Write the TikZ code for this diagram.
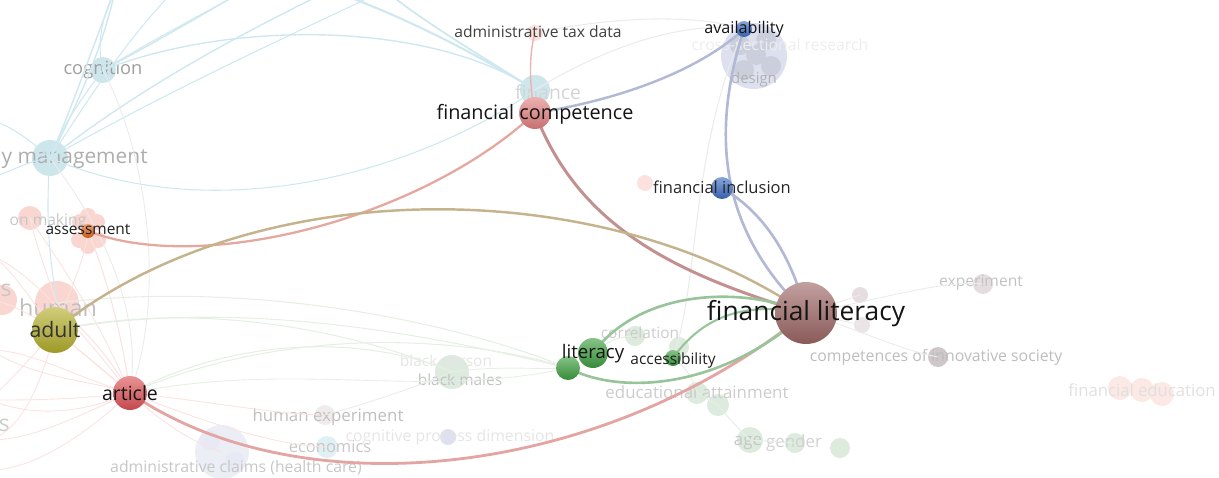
\documentclass[tikz,border=0pt]{standalone}
\usepackage{fontspec}
\setmainfont{Open Sans}
\usetikzlibrary{backgrounds}
\pgfdeclarelayer{faint}
\pgfsetlayers{faint,background,main}
\newcommand{\fsz}[1]{\fontsize{#1}{#1}\selectfont}
% node colours
\definecolor{litbrown}{HTML}{9C6664}
\definecolor{comppink}{HTML}{E27F80}
\definecolor{artred}{HTML}{DD5257}
\definecolor{adultolive}{HTML}{B4AE2C}
\definecolor{assorange}{HTML}{E2661E}
\definecolor{inclblue}{HTML}{3D6DC4}
\definecolor{litgreen}{HTML}{3E9E40}
\definecolor{fadecyan}{HTML}{CDE6EC}
\definecolor{fadepink}{HTML}{FAD6D0}
\definecolor{fadegreen}{HTML}{DDEADE}
\definecolor{fadelav}{HTML}{DDE1EF}
\definecolor{fadegray}{HTML}{E6DDE0}
% edge colours
\definecolor{edgebrown}{HTML}{C39090}
\definecolor{edgeblue}{HTML}{B2B9D4}
\definecolor{edgered}{HTML}{E3A4A2}
\definecolor{edgeassess}{HTML}{E6A89E}
\definecolor{edgeolive}{HTML}{C4B38C}
\definecolor{edgegreen}{HTML}{98C49A}
\definecolor{edgetax}{HTML}{E8B4B4}
\definecolor{edgecyan}{HTML}{CFE8EF}
\definecolor{edgepink}{HTML}{FAE3E1}
\definecolor{edgesage}{HTML}{E5EFE4}
\definecolor{edgegray}{HTML}{EBEBEE}
\tikzset{
  kwnode/.style 2 args={circle, inner sep=0pt, minimum size=#2*0.04cm,
    top color=#1!62!white, bottom color=#1!88!black},
  faintnode/.style 2 args={circle, inner sep=0pt, minimum size=#2*0.04cm, fill=#1},
  kwtext/.style 2 args={inner sep=0pt, text=#1, font=\fsz{#2}},
  tie/.style 2 args={draw=#1, line width=#2, line cap=round},
}

\begin{document}
\begin{tikzpicture}[x=0.02cm, y=-0.02cm]
\useasboundingbox (0,0) rectangle (1219,477);
\clip (0,0) rectangle (1219,477);

%faint items
\begin{pgfonlayer}{faint}
\node[faintnode={fadecyan}{13}] (cogn) at (103, 70) {};
\node[faintnode={fadecyan}{18}] (mgmt) at (50, 158) {};
\node[faintnode={fadecyan}{15}] (finance) at (535, 90) {};
\node[faintnode={fadepink}{12}] (decis) at (30, 218) {};
\node[faintnode={fadepink}{15}] (leftpink) at (2, 300) {};
\node[faintnode={fadepink}{22}] (human) at (57, 303) {};
\node[faintnode={fadepink}{8}] (pet1) at (80, 222) {};
\node[faintnode={fadepink}{8}] (pet2) at (97, 222) {};
\node[faintnode={fadepink}{8}] (pet3) at (79, 240) {};
\node[faintnode={fadepink}{8}] (pet4) at (98, 240) {};
\node[faintnode={fadepink}{8}] (pet5) at (88, 246) {};
\node[faintnode={fadepink}{8}] (pet6) at (88, 216) {};
\node[faintnode={fadepink!70!white}{8}] (admtax) at (535, 33) {};
\node[faintnode={fadepink!70!white}{8}] (pinkdot) at (645, 183) {};
\node[faintnode={fadelav}{33}] (design) at (754, 56) {};
\node[faintnode={fadelav!92!black}{10}] (des1) at (740, 45) {};
\node[faintnode={fadelav!92!black}{10}] (des2) at (766, 40) {};
\node[faintnode={fadelav!92!black}{10}] (des3) at (771, 66) {};
\node[faintnode={fadelav!92!black}{10}] (des4) at (744, 70) {};
\node[faintnode={fadelav!92!black}{10}] (des5) at (756, 55) {};
\node[faintnode={fadegreen}{17}] (blackm) at (452, 372) {};
\node[faintnode={fadegray!60!white}{10}] (humexp) at (325, 415) {};
\node[faintnode={fadecyan!60!white}{11}] (econ) at (327, 447) {};
\node[faintnode={fadelav}{8}] (cogproc) at (448, 437) {};
\node[faintnode={fadelav!55!white}{27}] (admclaims) at (222, 452) {};
\node[faintnode={fadelav!70!white}{10}] (adm1) at (210, 440) {};
\node[faintnode={fadelav!70!white}{10}] (adm2) at (235, 462) {};
\node[faintnode={fadegreen}{10}] (corr) at (635, 336) {};
\node[faintnode={fadegreen}{10}] (acchalo) at (679, 347) {};
\node[faintnode={fadegreen}{11}] (edu1) at (697, 393) {};
\node[faintnode={fadegreen}{11}] (edu2) at (718, 405) {};
\node[faintnode={fadegreen}{13}] (age) at (750, 440) {};
\node[faintnode={fadegreen}{10}] (gender) at (795, 443) {};
\node[faintnode={fadegreen}{10}] (agerim) at (840, 448) {};
\node[faintnode={fadegray}{8}] (grayA) at (860, 295) {};
\node[faintnode={fadegray!80!white}{8}] (grayB) at (862, 325) {};
\node[faintnode={fadegray}{10}] (expnode) at (983, 284) {};
\node[faintnode={fadegray!90!black}{10}] (compnode) at (938, 357) {};
\node[faintnode={fadepink!55!white}{12}] (fined1) at (1120, 388) {};
\node[faintnode={fadepink!55!white}{12}] (fined2) at (1142, 390) {};
\node[faintnode={fadepink!55!white}{12}] (fined3) at (1162, 394) {};
\node[kwtext={black!38}{10.4}] (cognL) at (103, 70) {cognition};
\node[kwtext={black!32}{11.9}, anchor=east] (mgmtL) at (148, 159) {y management};
\node[kwtext={black!22}{8.9}] (decisL) at (48, 221) {on making};
\node[kwtext={black!22}{13}, anchor=east] (leftL) at (12, 290) {rs};
\node[kwtext={black!25}{13.3}] (humanL) at (58, 308) {human};
\node[kwtext={black!17}{11}] (financeL) at (548, 92) {finance};
\node[kwtext={black!30}{8.5}] (designL) at (754, 80) {design};
\node[kwtext={black!7}{9}] (crossL) at (780, 45) {cross-sectional research};
\node[kwtext={black!10}{8.8}] (blackpL) at (446, 362) {black person};
\node[kwtext={black!24}{8.8}] (blackmL) at (460, 380) {black males};
\node[kwtext={black!25}{9.6}] (humexpL) at (328, 417) {human experiment};
\node[kwtext={black!22}{9.4}] (econL) at (330, 447) {economics};
\node[kwtext={black!10}{9}] (cogprocL) at (450, 437) {cognitive process dimension};
\node[kwtext={black!22}{9}] (admclaimsL) at (236, 468) {administrative claims (health care)};
\node[kwtext={black!20}{13}, anchor=east] (sL) at (10, 425) {s};
\node[kwtext={black!20}{8.8}] (corrL) at (640, 333) {correlation};
\node[kwtext={black!20}{9.6}] (eduL) at (697, 392) {educational attainment};
\node[kwtext={black!22}{9.6}] (ageL) at (748, 443) {age};
\node[kwtext={black!18}{9.6}] (genderL) at (794, 443) {gender};
\node[kwtext={black!24}{8.9}] (expL) at (981, 283) {experiment};
\node[kwtext={black!26}{9}] (compL) at (936, 357) {competences of innovative society};
\node[kwtext={black!12}{9.5}] (finedL) at (1142, 390) {financial education};
\end{pgfonlayer}

%main items
\node[kwnode={litbrown}{31}] (finlit) at (806, 313) {};
\node[kwnode={comppink}{16}] (fincomp) at (535, 113) {};
\node[kwnode={inclblue}{8}] (avail) at (744, 29) {};
\node[kwnode={inclblue}{11}] (fincl) at (722, 188) {};
\node[kwnode={litgreen}{12}] (litB) at (568, 368) {};
\node[kwnode={litgreen}{15}] (litA) at (593, 353) {};
\node[kwnode={litgreen}{8}] (access) at (673, 358) {};
\node[kwnode={artred}{17}] (article) at (130, 393) {};
\node[kwnode={adultolive}{23}] (adult) at (55, 330) {};
\node[kwnode={assorange}{7}] (assess) at (88, 231) {};
\node[kwtext={black!92}{15}] (finlitL) at (806, 314) {financial literacy};
\node[kwtext={black!92}{11.3}] (fincompL) at (535, 114) {financial competence};
\node[kwtext={black!75}{8.9}] (admtaxL) at (538, 32) {administrative tax data};
\node[kwtext={black!92}{9.2}] (availL) at (744, 29) {availability};
\node[kwtext={black!85}{9.4}] (finclL) at (722, 187) {financial inclusion};
\node[kwtext={black!92}{10.6}] (litL) at (593, 354) {literacy};
\node[kwtext={black!88}{8.8}] (accessL) at (673, 360) {accessibility};
\node[kwtext={black!92}{11.1}] (articleL) at (130, 393) {article};
\node[kwtext={black!80}{12.1}] (adultL) at (55, 330) {adult};
\node[kwtext={black!88}{8.8}] (assessL) at (88, 229) {assessment};

\coordinate (offA) at (115, -10);
\coordinate (offB) at (175, -10);
\coordinate (offC) at (245, -10);
\coordinate (offD) at (330, -10);
\coordinate (offE) at (385, -10);
\coordinate (offF) at (-10, 120);
\coordinate (offG) at (-10, 178);
\coordinate (offH) at (-10, 255);
\coordinate (offI) at (-10, 300);
\coordinate (offJ) at (-10, 350);
\coordinate (offK) at (-10, 400);
\coordinate (offL) at (-10, 440);
\coordinate (offM) at (-10, 470);

%faint links
\begin{scope}[on background layer]
\draw[tie={edgecyan}{0.8pt}] (mgmt.center) .. controls (75, 100) and (95, 40) .. (offA);
\draw[tie={edgecyan}{0.8pt}] (mgmt.center) .. controls (80, 100) and (105, 40) .. (offA);
\draw[tie={edgecyan}{0.6pt}] (mgmt.center) .. controls (85, 105) and (125, 40) .. (offB);
\draw[tie={edgecyan}{0.8pt}] (mgmt.center) .. controls (150, 80) and (250, 30) .. (offD);
\draw[tie={edgecyan}{0.6pt}] (mgmt.center) .. controls (160, 95) and (280, 40) .. (offE);
\draw[tie={edgecyan}{0.6pt}] (mgmt.center) .. controls (220, 230) and (420, 170) .. (finance.center);
\draw[tie={edgecyan}{0.6pt}] (mgmt.center) .. controls (30, 160) and (10, 172) .. (offG);
\draw[tie={edgecyan}{0.6pt}] (mgmt.center) .. controls (30, 140) and (10, 125) .. (offF);
\draw[tie={edgecyan}{0.6pt}] (mgmt.center) .. controls (45, 220) and (50, 260) .. (human.center);
\draw[tie={edgecyan}{0.8pt}] (cogn.center) .. controls (160, 40) and (210, 10) .. (offC);
\draw[tie={edgecyan}{0.6pt}] (cogn.center) .. controls (170, 30) and (220, 5) .. (offC);
\draw[tie={edgecyan}{0.6pt}] (cogn.center) .. controls (95, 40) and (105, 10) .. (offA);
\draw[tie={edgecyan}{0.6pt}] (cogn.center) .. controls (80, 100) and (60, 130) .. (mgmt.center);
\draw[tie={edgecyan}{0.8pt}] (cogn.center) .. controls (230, 20) and (430, 20) .. (finance.center);
\draw[tie={edgecyan}{1.2pt}] (finance.center) .. controls (470, 50) and (400, 15) .. (offD);
\draw[tie={edgecyan}{1pt}] (finance.center) .. controls (480, 55) and (420, 20) .. (offE);
\draw[tie={edgegray}{0.6pt}] (finance.center) .. controls (600, 50) and (680, 20) .. (avail.center);
\draw[tie={edgegray}{0.6pt}] (admtax.center) .. controls (620, 15) and (700, 15) .. (avail.center);
\draw[tie={edgegray}{0.6pt}] (avail.center) .. controls (690, 150) and (700, 280) .. (access.center);
\draw[tie={edgegray}{0.5pt}] (cogn.center) .. controls (150, 160) and (165, 300) .. (article.center);
\draw[tie={edgegray}{0.5pt}] (mgmt.center) .. controls (120, 250) and (140, 330) .. (article.center);
\draw[tie={edgepink}{0.5pt}] (article.center) .. controls (80, 330) and (30, 270) .. (offH);
\draw[tie={edgepink}{0.5pt}] (article.center) .. controls (80, 350) and (30, 305) .. (offI);
\draw[tie={edgepink}{0.5pt}] (article.center) .. controls (70, 375) and (30, 350) .. (offJ);
\draw[tie={edgepink}{0.5pt}] (article.center) .. controls (70, 400) and (30, 400) .. (offK);
\draw[tie={edgepink}{0.5pt}] (article.center) .. controls (70, 420) and (30, 440) .. (offL);
\draw[tie={edgepink}{0.5pt}] (article.center) .. controls (80, 440) and (30, 470) .. (offM);
\draw[tie={edgepink}{0.5pt}] (article.center) .. controls (90, 380) and (40, 380) .. (offJ);
\draw[tie={edgepink}{0.5pt}] (article.center) .. controls (90, 410) and (40, 420) .. (offK);
\draw[tie={edgepink}{0.5pt}] (adult.center) .. controls (30, 300) and (10, 265) .. (offH);
\draw[tie={edgepink}{0.5pt}] (adult.center) .. controls (30, 360) and (10, 380) .. (offK);
\draw[tie={edgepink}{0.5pt}] (adult.center) .. controls (40, 390) and (20, 430) .. (offL);
\draw[tie={edgepink}{0.6pt}] (article.center) -- (adult.center);
\draw[tie={edgepink}{0.6pt}] (article.center) .. controls (100, 340) and (70, 320) .. (human.center);
\draw[tie={edgepink}{0.6pt}] (article.center) .. controls (120, 320) and (100, 260) .. (assess.center);
\draw[tie={edgepink}{0.5pt}] (article.center) .. controls (90, 300) and (50, 250) .. (decis.center);
\draw[tie={edgepink}{0.5pt}] (human.center) .. controls (45, 270) and (35, 240) .. (decis.center);
\draw[tie={edgepink}{0.5pt}] (adult.center) .. controls (70, 290) and (85, 260) .. (assess.center);
\draw[tie={edgepink}{0.5pt}] (article.center) .. controls (170, 430) and (200, 445) .. (admclaims.center);
\draw[tie={edgepink}{0.5pt}] (article.center) .. controls (200, 400) and (280, 415) .. (humexp.center);
\draw[tie={edgepink}{0.5pt}] (article.center) .. controls (200, 420) and (270, 445) .. (econ.center);
\draw[tie={edgesage}{0.6pt}] (adult.center) .. controls (200, 300) and (350, 330) .. (blackm.center);
\draw[tie={edgesage}{0.6pt}] (article.center) .. controls (250, 330) and (380, 340) .. (blackm.center);
\draw[tie={edgesage}{0.6pt}] (human.center) .. controls (250, 280) and (450, 320) .. (litB.center);
\draw[tie={edgesage}{0.6pt}] (adult.center) .. controls (250, 295) and (450, 340) .. (litB.center);
\draw[tie={edgesage}{0.6pt}] (article.center) .. controls (300, 320) and (480, 340) .. (litB.center);
\draw[tie={edgesage}{0.5pt}] (article.center) .. controls (300, 360) and (420, 400) .. (litB.center);
\draw[tie={edgesage}{0.5pt}] (humexp.center) .. controls (380, 400) and (420, 385) .. (blackm.center);
\draw[tie={edgesage}{0.5pt}] (blackm.center) .. controls (500, 365) and (540, 370) .. (litB.center);
\draw[tie={edgesage}{0.6pt}] (litA.center) .. controls (610, 340) and (620, 336) .. (corr.center);
\draw[tie={edgesage}{0.6pt}] (access.center) .. controls (690, 370) and (695, 385) .. (edu1.center);
\draw[tie={edgesage}{0.6pt}] (edu1.center) -- (edu2.center);
\draw[tie={edgesage}{0.6pt}] (edu2.center) .. controls (730, 420) and (740, 430) .. (age.center);
\draw[tie={edgesage}{0.6pt}] (age.center) -- (gender.center);
\draw[tie={edgegray}{0.5pt}] (finlit.center) .. controls (880, 300) and (940, 280) .. (expnode.center);
\draw[tie={edgegray}{0.5pt}] (finlit.center) .. controls (860, 330) and (900, 350) .. (compnode.center);
\draw[tie={edgegray}{0.5pt}] (finlit.center) -- (grayA.center);
\draw[tie={edgegray}{0.5pt}] (finlit.center) -- (grayB.center);
\end{scope}

%main links
\begin{scope}[on background layer]
\draw[tie={edgetax}{0.8pt}] (fincomp.center) .. controls (528, 80) and (530, 50) .. (admtax.center);
\draw[tie={edgebrown}{1.7pt}] (fincomp.center) .. controls (580, 230) and (680, 275) .. (finlit.center);
\draw[tie={edgeblue}{1.4pt}] (fincomp.center) .. controls (620, 100) and (700, 70) .. (avail.center);
\draw[tie={edgeblue}{1.5pt}] (avail.center) .. controls (705, 150) and (730, 240) .. (finlit.center);
\draw[tie={edgeblue}{1.5pt}] (fincl.center) .. controls (760, 210) and (790, 250) .. (finlit.center);
\draw[tie={edgeassess}{1.3pt}] (assess.center) .. controls (200, 275) and (420, 220) .. (fincomp.center);
\draw[tie={edgeolive}{1.4pt}] (adult.center) .. controls (250, 172) and (600, 172) .. (finlit.center);
\draw[tie={edgered}{1.6pt}] (article.center) .. controls (300, 510) and (600, 480) .. (finlit.center);
\draw[tie={edgegreen}{1.5pt}] (litA.center) .. controls (640, 290) and (740, 285) .. (finlit.center);
\draw[tie={edgegreen}{1.5pt}] (litB.center) .. controls (620, 395) and (720, 390) .. (finlit.center);
\draw[tie={edgegreen}{1.2pt}] (access.center) .. controls (700, 320) and (740, 300) .. (finlit.center);
\end{scope}
\end{tikzpicture}
\end{document}
